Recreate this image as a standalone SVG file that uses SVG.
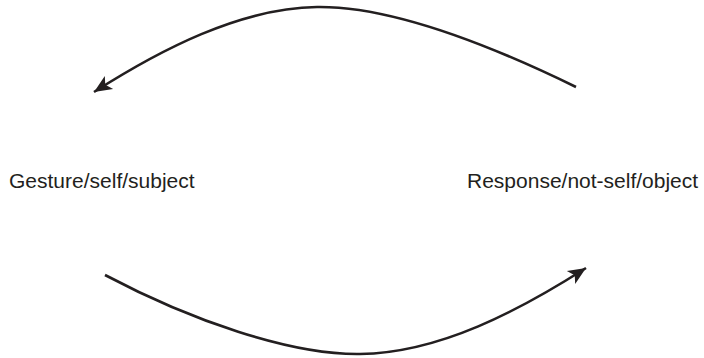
<svg xmlns="http://www.w3.org/2000/svg" width="704" height="358" viewBox="0 0 704 358">
<style>
.lbl{font-family:"Liberation Sans",Arial,sans-serif;font-size:21px;fill:#231f20}
.arc{fill:none;stroke:#231f20;stroke-width:2.6}
</style>
<defs>
<marker id="ah" markerUnits="userSpaceOnUse" markerWidth="20" markerHeight="20" viewBox="-16 -8 18 16" refX="0" refY="0" orient="auto">
<path d="M0,0 L-16,-7 L-12,0 L-16,7 Z" fill="#231f20"/>
</marker>
</defs>
<rect width="704" height="358" fill="#fff"/>
<g id="connectors">
<path class="arc" d="M576,87 C490,45 390,6 317,7 C240,8 160,50 94,92" marker-end="url(#ah)"/>
<path class="arc" d="M105,275 C190,320 290,355 360,354 C440,353 520,310 586,268" marker-end="url(#ah)"/>
</g>
<g id="gesture"><text class="lbl" x="9" y="188">Gesture/self/subject</text></g>
<g id="response"><text class="lbl" x="467" y="188">Response/not-self/object</text></g>
</svg>
